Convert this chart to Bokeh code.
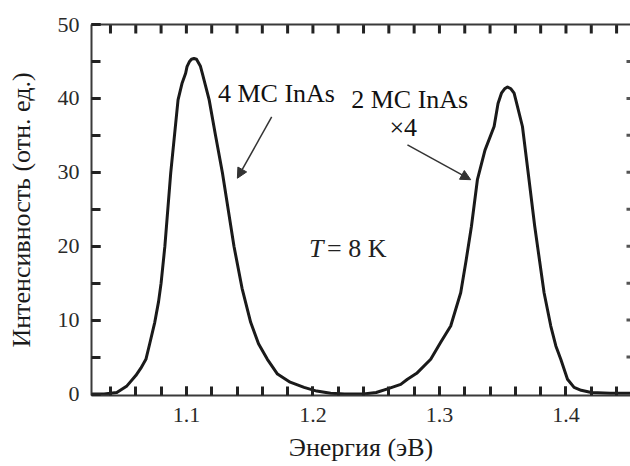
from bokeh.plotting import figure
from bokeh.models import (Range1d, LinearAxis, SingleIntervalTicker, FixedTicker,
                          Arrow, NormalHead, Label, ColumnDataSource)
from bokeh.embed import file_html
from bokeh.resources import INLINE

# Photoluminescence spectrum
energy = [1.025, 1.035, 1.045, 1.053, 1.060, 1.064, 1.068, 1.071, 1.075, 1.078,
          1.080, 1.083, 1.0876, 1.0934, 1.0965, 1.0994, 1.1005, 1.1025, 1.104,
          1.106, 1.108, 1.109, 1.111, 1.1126, 1.115, 1.118, 1.123, 1.1285,
          1.1376, 1.144, 1.1508, 1.157, 1.164, 1.172, 1.182, 1.193, 1.203, 1.214,
          1.225, 1.240, 1.250, 1.259, 1.2694, 1.2747, 1.282, 1.2931, 1.301, 1.3089,
          1.3168, 1.321, 1.3253, 1.330, 1.336, 1.3432, 1.3463, 1.349, 1.3515,
          1.3538, 1.3565, 1.359, 1.3611, 1.3656, 1.3708, 1.3753, 1.3827, 1.388,
          1.392, 1.3959, 1.4012, 1.4064, 1.412, 1.420, 1.435, 1.455]
intensity = [0.0, 0.0, 0.2, 1.1, 2.5, 3.5, 4.7, 6.8, 9.7, 12.5,
             15.0, 20.0, 29.9, 39.8, 42.0, 43.4, 44.3, 45.0, 45.3,
             45.4, 45.3, 45.0, 44.4, 43.4, 41.8, 39.8, 35.0, 29.9,
             20.0, 14.3, 9.7, 6.8, 4.7, 2.7, 1.6, 0.9, 0.4, 0.1,
             0.0, 0.0, 0.2, 0.7, 1.3, 2.0, 2.8, 4.7, 7.0, 9.2,
             13.7, 18.0, 22.7, 29.0, 33.0, 36.2, 39.3, 40.7, 41.3,
             41.55, 41.3, 40.7, 39.3, 36.2, 29.0, 22.7, 13.7, 9.2,
             6.5, 4.7, 2.0, 0.9, 0.5, 0.2, 0.1, 0.1]

# tick values for the top and right frame sides
x_ticks = [1.04, 1.06, 1.08, 1.10, 1.12, 1.14, 1.16, 1.18, 1.20, 1.22, 1.24,
           1.26, 1.28, 1.30, 1.32, 1.34, 1.36, 1.38, 1.40, 1.42, 1.44]
y_ticks = [5, 10, 15, 20, 25, 30, 35, 40, 45]

FONT = "Liberation Serif"
AX = "#3a3a3a"
TK = "#222222"
X0, X1 = 1.025, 1.451
Y0, Y1 = -0.2, 50
W, H = 630, 466
BL, BR, BT, BB = 91, 0, 24, 71

p = figure(width=W, height=H, output_backend="svg", toolbar_location=None,
           x_range=Range1d(X0, X1), y_range=Range1d(Y0, Y1),
           min_border_left=BL, min_border_right=BR, min_border_top=BT,
           min_border_bottom=BB, x_axis_label="Энергия (эВ)",
           y_axis_label="Интенсивность (отн. ед.)")
p.outline_line_color = None
p.grid.visible = False

p.xaxis.ticker = SingleIntervalTicker(interval=0.1, num_minor_ticks=5)
p.yaxis.ticker = SingleIntervalTicker(interval=10, num_minor_ticks=2)

for ax in (p.xaxis[0], p.yaxis[0]):
    ax.axis_line_color = AX
    ax.axis_line_width = 2
    ax.major_tick_in = 9
    ax.major_tick_out = 0
    ax.minor_tick_in = 9
    ax.minor_tick_out = 0
    ax.major_tick_line_color = TK
    ax.minor_tick_line_color = TK
    ax.major_tick_line_width = 3
    ax.minor_tick_line_width = 3
    ax.major_label_text_font = FONT
    ax.major_label_text_font_size = "22px"
    ax.major_label_text_color = "#2a2a2a"
    ax.axis_label_text_font = FONT
    ax.axis_label_text_font_size = "26px"
    ax.axis_label_text_font_style = "normal"
    ax.axis_label_text_color = "#1a1a1a"

p.xaxis.major_label_standoff = 12
p.xaxis.axis_label_standoff = 8
p.yaxis.major_label_standoff = 12
p.yaxis.axis_label_standoff = 19
p.yaxis.major_label_orientation = "horizontal"

top = LinearAxis(ticker=FixedTicker(ticks=[]))
top.axis_line_color = AX
top.axis_line_width = 2
top.major_tick_line_color = None
top.minor_tick_line_color = None
top.major_label_standoff = 0
p.add_layout(top, "above")

src = ColumnDataSource(dict(x=energy, y=intensity))
p.line("x", "y", source=src, line_color="#1a1a1a", line_width=3,
       line_join="round")

# inward tick marks on top and right sides (pixel length -> data units)
sx = (W - BL - BR) / (X1 - X0)
sy = (H - BT - BB) / (Y1 - Y0)
dy = 9 / sy
dx = 4 / sx
p.multi_line(xs=[[t, t] for t in x_ticks],
             ys=[[Y1, Y1 - dy] for t in x_ticks],
             line_color=TK, line_width=3)
p.multi_line(xs=[[X1, X1 - dx] for t in y_ticks],
             ys=[[t, t] for t in y_ticks],
             line_color="#555555", line_width=3)

# annotations
def lab(x, y, text, align="center", style="normal", color="#111111"):
    p.add_layout(Label(x=x, y=y, text=text, text_font=FONT,
                       text_font_size="26px", text_align=align,
                       text_font_style=style, text_baseline="middle",
                       text_color=color))

lab(1.1712, 40.6, "4 MC InAs")
lab(1.2765, 39.9, "2 MC InAs")
lab(1.2714, 36.0, "×4")
lab(1.1969, 19.7, "T", align="left", style="italic", color="#222222")
lab(1.2112, 19.7, "= 8 K", align="left", color="#222222")

for xs, ys, xe, ye in [(1.1674, 37.5, 1.1403, 29.2), (1.2747, 33.7, 1.3247, 29.0)]:
    p.add_layout(Arrow(end=NormalHead(size=10, fill_color="#333333",
                                      line_color="#333333"),
                       x_start=xs, y_start=ys, x_end=xe, y_end=ye,
                       line_color="#333333", line_width=1.5))

open("out.html", "w").write(file_html(p, INLINE))
